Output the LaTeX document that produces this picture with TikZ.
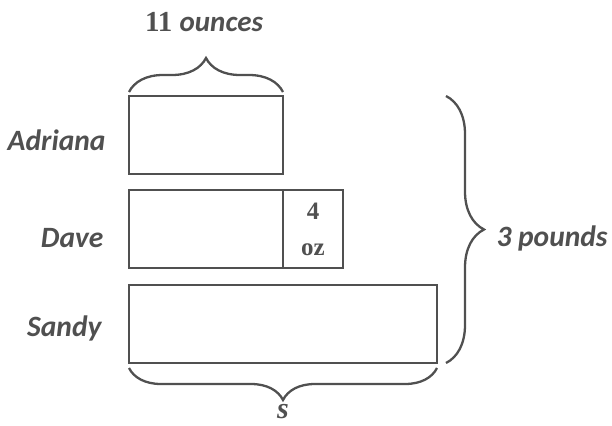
\documentclass[tikz,border=0pt]{standalone}
\usepackage{fontspec}
\setmainfont{Liberation Serif}
\newfontfamily\labelfont{Carlito}
\usetikzlibrary{decorations.pathreplacing}
\definecolor{inkgray}{HTML}{505050}
\tikzset{
  bar/.style={draw=inkgray, line width=2.3pt, anchor=north west, inner sep=0pt, outer sep=0pt},
  brace/.style={draw=inkgray, line width=2.3pt, decorate, decoration={brace, amplitude=#1}},
  personlabel/.style={text=inkgray, font=\labelfont\bfseries\itshape\fontsize{29.5}{34}\selectfont, anchor=east},
  seriflabel/.style={text=inkgray, font=\bfseries\fontsize{29}{34}\selectfont}
}
\begin{document}
\begin{tikzpicture}[x=1pt, y=-1pt]
\useasboundingbox (0,0) rectangle (612,425);
% bars
\node[bar, minimum width=154, minimum height=78] (adriana) at (129,96)  {};
\node[bar, minimum width=154, minimum height=78] (dave)    at (129,190) {};
\node[bar, minimum width=60,  minimum height=78] (extra)   at (283,190) {};
\node[bar, minimum width=308, minimum height=78] (sandy)   at (129,285) {};
% names
\node[personlabel] (adriananame) at (109,140) {Adriana};
\node[personlabel] (davename)    at (107,238) {Dave};
\node[personlabel] (sandyname)   at (105,328) {Sandy};
% the 4 oz in the extra bar
\node[seriflabel, align=center, font=\bfseries\fontsize{25}{36}\selectfont] (oz) at (extra.center) {4\\oz};
% braces
\coordinate (rtop) at ([xshift=9]adriana.north -| sandy.east);
\draw[brace=34] ([yshift=4]adriana.north west) -- ([yshift=4]adriana.north east);
\draw[brace=38] (rtop) -- (rtop |- sandy.south);
\draw[brace=32] ([yshift=-5]sandy.south east) -- ([yshift=-5]sandy.south west);
% brace labels
\node[seriflabel] (ounces) at (204,22) {11 {\labelfont\itshape ounces}};
\node[personlabel, anchor=west] (pounds) at (493,238) {3 pounds};
\node[seriflabel, inner sep=0pt, font=\bfseries\itshape\fontsize{30}{34}\selectfont] (s) at (283,412) {s};
\end{tikzpicture}
\end{document}
